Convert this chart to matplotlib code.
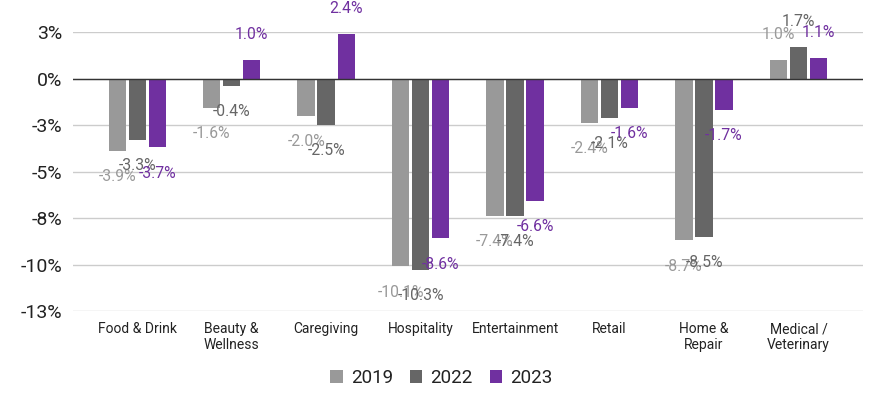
import numpy as np
import matplotlib.pyplot as plt

plt.rcParams['font.family'] = ['Roboto', 'DejaVu Sans']

categories = ["Food & Drink", "Beauty &\nWellness", "Caregiving", "Hospitality",
              "Entertainment", "Retail", "Home &\nRepair", "Medical /\nVeterinary"]
years = ["2019", "2022", "2023"]
v2019 = [-3.9, -1.6, -2.0, -10.1, -7.4, -2.4, -8.7, 1.0]
v2022 = [-3.3, -0.4, -2.5, -10.3, -7.4, -2.1, -8.5, 1.7]
v2023 = [-3.7, 1.0, 2.4, -8.6, -6.6, -1.6, -1.7, 1.1]
yticks = [2.5, 0, -2.5, -5, -7.5, -10, -12.5]
ytick_labels = ["3%", "0%", "-3%", "-5%", "-8%", "-10%", "-13%"]

colors = ["#999999", "#666666", "#7030a0"]
series = [v2019, v2022, v2023]

fig = plt.figure(figsize=(8.83, 4.11), dpi=100)
ax = fig.add_axes([0.0827, 0.2433, 0.8943, 0.6788])

x = np.arange(len(categories))
step = 0.212
width = 0.184
for i, (vals, c, yr) in enumerate(zip(series, colors, years)):
    pos = x + (i - 1) * step
    ax.bar(pos, vals, width=width, color=c, label=yr, zorder=3)
    for px, v in zip(pos, vals):
        off = 18.5 if v > 0 else -18.5
        ax.annotate(f"{v:.1f}%", (px, v), xytext=(0, off), textcoords="offset points",
                    ha="center", va="center", fontsize=11.3, color=c,
                    annotation_clip=False, zorder=4)

ax.set_xlim(-0.68, 7.68)
ax.set_ylim(-12.5, 2.5)
ax.set_yticks(yticks)
ax.set_yticklabels(ytick_labels, fontsize=14, color="#222222")
ax.set_xticks(x)
ax.set_xticklabels(categories, fontsize=10, color="#222222", linespacing=1.15)
ax.tick_params(axis="both", length=0)
ax.tick_params(axis="x", pad=8)
ax.tick_params(axis="y", pad=8)
ax.grid(axis="y", color="#cccccc", linewidth=1, zorder=0)
ax.axhline(0, color="#333333", linewidth=1, zorder=5)
for s in ax.spines.values():
    s.set_visible(False)

handles, labels = ax.get_legend_handles_labels()
fig.legend(handles, labels, loc="center", bbox_to_anchor=(0.5, 0.08), ncol=3,
           frameon=False, fontsize=13.5, handlelength=0.65, handleheight=0.65,
           handletextpad=0.45, columnspacing=0.9, labelcolor="#222222")

fig.savefig("out.png", dpi=100)
